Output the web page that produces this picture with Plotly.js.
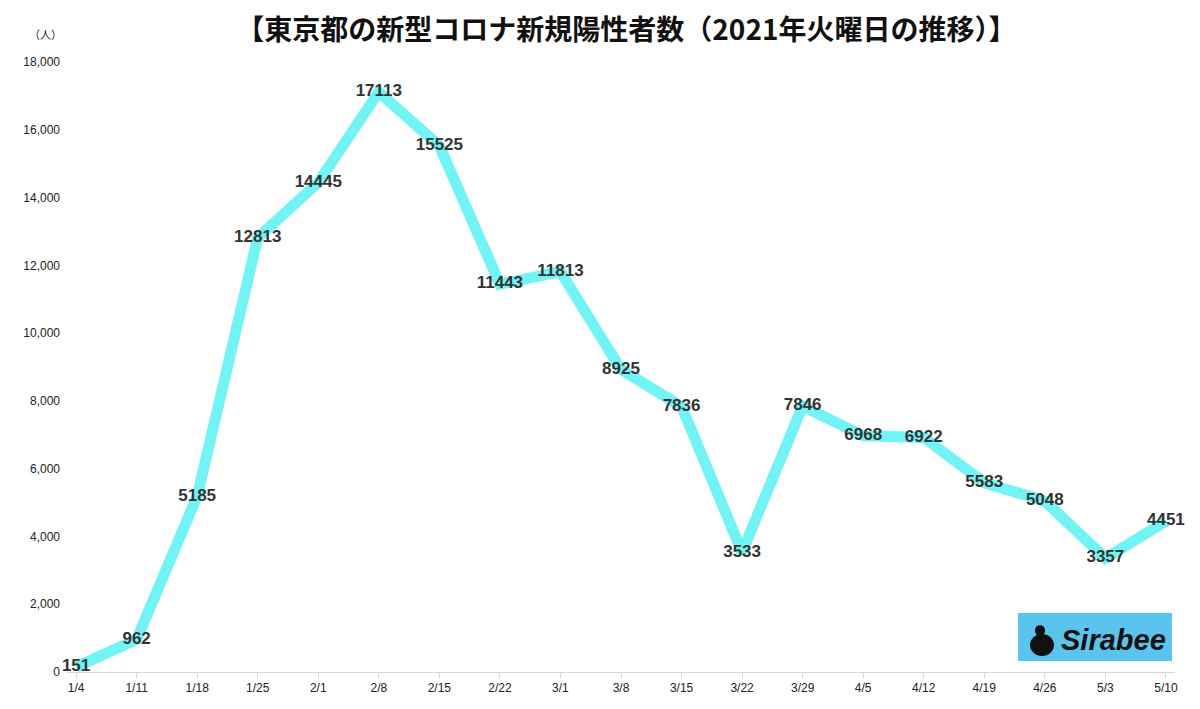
<!DOCTYPE html>
<html>
<head>
<meta charset="utf-8">
<script src="https://cdn.plot.ly/plotly-3.0.1.min.js"></script>
<style>
  html, body { margin: 0; padding: 0; background: #fff; }
  #chart { width: 1200px; height: 709px; }
</style>
</head>
<body>
<div id="chart"></div>
<script>
// 火曜日ごとの新規陽性者数
const dates = ["1/4","1/11","1/18","1/25","2/1","2/8","2/15","2/22","3/1","3/8",
               "3/15","3/22","3/29","4/5","4/12","4/19","4/26","5/3","5/10"];
const cases = [151, 962, 5185, 12813, 14445, 17113, 15525, 11443, 11813, 8925,
               7836, 3533, 7846, 6968, 6922, 5583, 5048, 3357, 4451];

const yTicks = [0, 2000, 4000, 6000, 8000, 10000, 12000, 14000, 16000, 18000];
const yTickText = ["0","2,000","4,000","6,000","8,000","10,000","12,000","14,000","16,000","18,000"];

const narrow = "Liberation Sans Narrow, Arial Narrow, Liberation Sans, sans-serif";

const data = [{
  x: dates,
  y: cases,
  type: "scatter",
  mode: "lines+text",
  line: { color: "#72f3f5", width: 11 },
  text: cases.map(String),
  textposition: "middle center",
  textfont: { family: narrow, size: 17, color: "#333", weight: "bold", stretch: "condensed" },
  cliponaxis: false,
  hoverinfo: "x+y"
}];

const layout = {
  width: 1200,
  height: 709,
  margin: { l: 67, r: 25, t: 62, b: 37, pad: 0 },
  paper_bgcolor: "#fff",
  plot_bgcolor: "#fff",
  showlegend: false,
  title: {
    text: "【東京都の新型コロナ新規陽性者数（2021年火曜日の推移）】",
    font: { family: "Noto Sans CJK JP", size: 28, color: "#111", weight: "bold" },
    x: 0.522, xanchor: "center", y: 0.957, yanchor: "middle"
  },
  xaxis: {
    type: "category",
    range: [-0.15, 18.15],
    showgrid: false,
    zeroline: false,
    showline: true,
    linecolor: "#d6d6d6",
    linewidth: 1,
    ticks: "outside",
    ticklen: 5,
    tickcolor: "#d6d6d6",
    tickfont: { family: narrow, size: 12, color: "#222", stretch: "condensed" }
  },
  yaxis: {
    range: [0, 18000],
    tickvals: yTicks,
    ticktext: yTickText,
    showgrid: false,
    zeroline: false,
    showline: false,
    ticks: "",
    ticklabelstandoff: 6,
    tickfont: { family: narrow, size: 12, color: "#222", stretch: "condensed" }
  },
  shapes: [
    { type: "rect", xref: "paper", yref: "paper",
      x0: (1018 - 67) / 1108, x1: (1172 - 67) / 1108,
      y0: (672 - 661) / 610, y1: (672 - 613) / 610,
      fillcolor: "#5bc4ee", line: { width: 0 } },
    { type: "circle", xref: "paper", yref: "paper",
      x0: (1030 - 67) / 1108, x1: (1054 - 67) / 1108,
      y0: (672 - 656) / 610, y1: (672 - 634) / 610,
      fillcolor: "#111", line: { width: 0 } },
    { type: "circle", xref: "paper", yref: "paper",
      x0: (1035 - 67) / 1108, x1: (1045 - 67) / 1108,
      y0: (672 - 636) / 610, y1: (672 - 625) / 610,
      fillcolor: "#111", line: { width: 0 } }
  ],
  annotations: [
    { text: "（人）", xref: "paper", yref: "paper", x: (45 - 67) / 1108, y: (672 - 34) / 610,
      xanchor: "center", yanchor: "middle", showarrow: false,
      font: { family: "Noto Sans CJK JP", size: 11, color: "#222" } },
    { text: "<i><b>Sirabee</b></i>", xref: "paper", yref: "paper",
      x: (1113 - 67) / 1108, y: (672 - 640) / 610,
      xanchor: "center", yanchor: "middle", showarrow: false,
      font: { family: "Liberation Sans, sans-serif", size: 29, color: "#111" } }
  ]
};

Plotly.newPlot("chart", data, layout, { displayModeBar: false, staticPlot: true });
</script>
</body>
</html>
